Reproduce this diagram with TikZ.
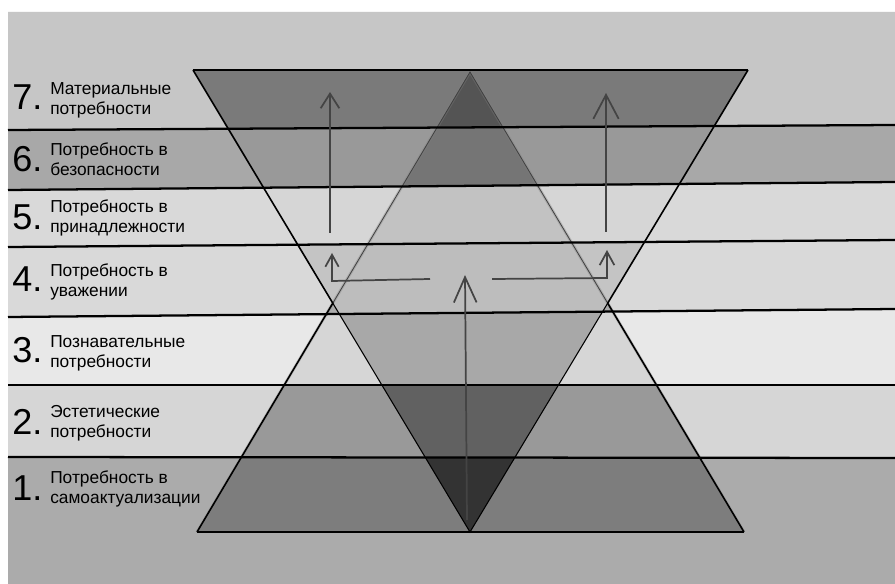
\documentclass[tikz,border=0pt]{standalone}
\usepackage{fontspec}
\setmainfont{Liberation Sans}
\usetikzlibrary{arrows.meta}
\definecolor{bgA}{HTML}{C6C6C6}
\definecolor{arrc}{HTML}{444444}
\newcommand{\bandpaint}[6]{%
  \fill[#3] (a#1l) -- (a#1r) -- (a#2r) -- (a#2l) -- cycle;
  \begin{scope}
    \clip (a#1l) -- (a#1r) -- (a#2r) -- (a#2l) -- cycle;
    \fill[#4] (Vl) -- (Vr) -- (Va) -- cycle;
    \fill[#5] (Ua) -- (Ul) -- (Ur) -- cycle;
    \clip (Vl) -- (Vr) -- (Va) -- cycle;
    \fill[#6] (Ua) -- (Ul) -- (Ur) -- cycle;
  \end{scope}}
\begin{document}
\begin{tikzpicture}[x=0.75pt,y=-0.75pt,
  hline/.style={draw=black,line width=1.7pt},
  outer/.style={draw=black,line width=1.2pt},
  innerU/.style={draw=black!75,line width=0.6pt},
  innerV/.style={draw=black,line width=0.8pt},
  arr/.style={draw=arrc,line width=1.3pt},
  num/.style={anchor=base west,inner sep=0pt,font=\fontsize{27}{27}\selectfont},
  lbl/.style={anchor=base west,inner sep=0pt,align=left,font=\fontsize{13}{15}\selectfont}]
\useasboundingbox (0,0) rectangle (895,584);
\fill[white] (0,0) rectangle (895,584);
% triangle corners
\coordinate (Vl) at (193,70);
\coordinate (Vr) at (748,70);
\coordinate (Va) at (470,532);
\coordinate (Ua) at (470,72);
\coordinate (Ul) at (197,532);
\coordinate (Ur) at (744,532);
% band boundaries
\coordinate (a0l) at (8,12);   \coordinate (a0r) at (895,12);
\coordinate (a1l) at (8,130);  \coordinate (a1r) at (895,125);
\coordinate (a2l) at (8,190);  \coordinate (a2r) at (895,182);
\coordinate (a3l) at (8,247);  \coordinate (a3r) at (895,240);
\coordinate (a4l) at (8,317);  \coordinate (a4r) at (895,309);
\coordinate (a5l) at (8,385);  \coordinate (a5r) at (895,385);
\coordinate (a6l) at (8,457);  \coordinate (a6r) at (895,458);
\coordinate (a7l) at (8,584);  \coordinate (a7r) at (895,584);
% bands: top, bottom, outside, V only, U only, U and V
\bandpaint{0}{1}{bgA}{black!52}{black!52}{black!67}
\bandpaint{1}{2}{black!34}{black!40}{black!40}{black!54}
\bandpaint{2}{3}{black!15}{black!16}{black!24}{black!24}
\bandpaint{3}{4}{black!15}{black!23}{black!33}{black!26}
\bandpaint{4}{5}{black!9}{black!16}{black!16}{black!34}
\bandpaint{5}{6}{black!16}{black!40}{black!40}{black!62}
\bandpaint{6}{7}{black!33}{black!51}{black!51}{black!80}
% crossings
\coordinate (XL) at (intersection of Vl--Va and Ua--Ul);
\coordinate (XR) at (intersection of Vr--Va and Ua--Ur);
% soft shadow along the upright triangle
\draw[black!50,line width=2.2pt,opacity=0.35] (Ul) -- (Ua) -- (Ur);
% inner edges
\draw[innerU] (XL) -- (Ua) -- (XR);
\draw[innerV] (XL) -- (Va) -- (XR);
% horizontal lines
\draw[hline] (a1l) -- (a1r);
\draw[hline] (a2l) -- (a2r);
\draw[hline] (a3l) -- (a3r);
\draw[hline] (a4l) -- (a4r);
\draw[hline] (a5l) -- (a5r);
\draw[hline] (a6l) -- (a6r);
\draw[hline] (Vl) -- (Vr);
\draw[hline] (Ul) -- (Ur);
% outer outline
\draw[outer] (Vl) -- (XL) -- (Ul);
\draw[outer] (Vr) -- (XR) -- (Ur);
% arrows
\coordinate (p1s) at (330,233); \coordinate (p1e) at (330,92);
\coordinate (p2s) at (606,232); \coordinate (p2e) at (606,93);
\coordinate (p3s) at (467,520); \coordinate (p3e) at (465,275);
\coordinate (p4s) at (430,279); \coordinate (p4m) at (332,281); \coordinate (p4e) at (332,253);
\coordinate (p5s) at (492,279); \coordinate (p5m) at (607,278); \coordinate (p5e) at (607,250);
\draw[arr,-{Straight Barb[length=11pt,width=14pt]}] (p1s) -- (p1e);
\draw[arr,-{Straight Barb[length=18pt,width=19pt]}] (p2s) -- (p2e);
\draw[arr,-{Straight Barb[length=19pt,width=17pt]}] (p3s) -- (p3e);
\draw[arr,-{Straight Barb[length=9pt,width=10pt]}] (p4s) -- (p4m) -- (p4e);
\draw[arr,-{Straight Barb[length=10pt,width=11pt]}] (p5s) -- (p5m) -- (p5e);
% labels (anchor at baseline of the second line)
\node[num] (n7) at (12,110) {7.};
\node[lbl] (t7) at (50,115) {Материальные\\потребности};
\node[num] (n6) at (12,172) {6.};
\node[lbl] (t6) at (50,176) {Потребность в\\безопасности};
\node[num] (n5) at (12,230) {5.};
\node[lbl] (t5) at (50,233) {Потребность в\\принадлежности};
\node[num] (n4) at (12,292) {4.};
\node[lbl] (t4) at (50,297) {Потребность в\\уважении};
\node[num] (n3) at (12,362) {3.};
\node[lbl] (t3) at (50,367) {Познавательные\\потребности};
\node[num] (n2) at (12,434) {2.};
\node[lbl] (t2) at (50,437) {Эстетические\\потребности};
\node[num] (n1) at (12,500) {1.};
\node[lbl] (t1) at (50,503) {Потребность в\\самоактуализации};
\end{tikzpicture}
\end{document}
